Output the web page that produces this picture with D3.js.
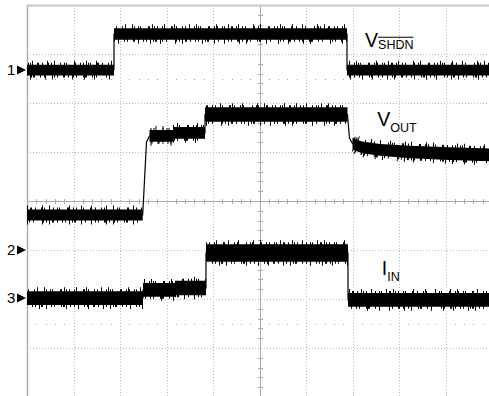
<!DOCTYPE html>
<html>
<head>
<meta charset="utf-8">
<script src="https://cdn.jsdelivr.net/npm/d3@7"></script>
<style>
  html, body { margin: 0; padding: 0; background: #fff; }
  svg { display: block; }
  text { font-family: "Liberation Sans", Arial, Helvetica, sans-serif; fill: #000; }
</style>
</head>
<body>
<svg id="scope" width="489" height="396"></svg>
<script>
// Horizontal axis: time in screen divisions (0–10).
// Vertical axis: amplitude in divisions about screen centre (−4 … +4).
// Noise arrays give the half-height of each trace's noise band, in divisions.

const shdnTime  = [0, 1.871, 1.871, 6.882, 6.882, 10];
const shdnLevel = [2.673, 2.673, 3.408, 3.408, 2.673, 2.673];
const shdnNoise = [0.11, 0.11, 0.115, 0.115, 0.11, 0.11];

const voutTime  = [0, 2.488, 2.488, 2.570, 2.634, 2.634, 3.140, 3.140, 3.828, 3.828, 6.892, 6.892, 6.935, 7.000, 7.000, 7.204, 7.591, 8.237, 9.097, 10];
const voutLevel = [-0.286, -0.286, -0.286, 1.204, 1.327, 1.327, 1.327, 1.388, 1.388, 1.765, 1.765, 1.765, 1.286, 1.173, 1.173, 1.092, 1.041, 1.000, 0.969, 0.939];
const voutNoise = [0.11, 0.11, 0, 0, 0, 0.12, 0.12, 0.12, 0.12, 0.15, 0.15, 0, 0, 0, 0.12, 0.12, 0.12, 0.13, 0.13, 0.13];

const iinTime  = [0, 2.495, 2.495, 3.183, 3.183, 3.849, 3.849, 6.903, 6.903, 10];
const iinLevel = [-1.980, -1.980, -1.816, -1.816, -1.776, -1.776, -1.061, -1.061, -2.020, -2.020];
const iinNoise = [0.14, 0.14, 0.14, 0.14, 0.15, 0.15, 0.18, 0.18, 0.14, 0.14];

// Channel ground markers (division level) and trace labels
const markerNames  = ["1", "2", "3"];
const markerLevels = [2.673, -1.0, -1.980];

const labelMain = ["V", "V", "I"];
const labelSub  = ["SHDN", "OUT", "IN"];
const labelOver = [true, false, false];
const labelT    = [7.27, 7.53, 7.63];
const labelV    = [3.148, 1.527, -1.510];

const xDivs = d3.range(0, 11);
const yDivs = d3.range(-4, 5);
const halfDivRows = [2.5, -2.5];

const svg = d3.select("#scope");
const x = d3.scaleLinear().domain([0, 10]).range([27, 492]);
const y = d3.scaleLinear().domain([-4, 4]).range([397, 5]);

// ---- graticule ----
const grid = svg.append("g");
grid.selectAll("line.v").data(xDivs.filter(d => d > 0 && d !== 5)).join("line")
  .attr("x1", d => Math.round(x(d)) + 0.5).attr("x2", d => Math.round(x(d)) + 0.5)
  .attr("y1", y(4)).attr("y2", y(-4))
  .attr("stroke", "#b8b8b8").attr("stroke-width", 1).attr("stroke-dasharray", "1,2");
grid.selectAll("line.h").data(yDivs.filter(d => d < 4 && d !== 0)).join("line")
  .attr("y1", d => Math.round(y(d)) + 0.5).attr("y2", d => Math.round(y(d)) + 0.5)
  .attr("x1", x(0)).attr("x2", x(10))
  .attr("stroke", "#b8b8b8").attr("stroke-width", 1).attr("stroke-dasharray", "1,2");

// centre cross with minor ticks
const cx = Math.round(x(5)) + 0.5, cy = Math.round(y(0)) + 0.5;
grid.append("line").attr("x1", cx).attr("x2", cx).attr("y1", y(4)).attr("y2", y(-4))
  .attr("stroke", "#ababab");
grid.append("line").attr("y1", cy).attr("y2", cy).attr("x1", x(0)).attr("x2", x(10))
  .attr("stroke", "#ababab");
const minorX = d3.range(0, 50).map(i => i / 5).filter(d => d % 1 !== 0);
const minorY = d3.range(-20, 20).map(i => i / 5).filter(d => Math.abs(d % 1) > 1e-6);
grid.selectAll("line.tx").data(minorX).join("line")
  .attr("x1", d => Math.round(x(d)) + 0.5).attr("x2", d => Math.round(x(d)) + 0.5)
  .attr("y1", cy - 2.5).attr("y2", cy + 2.5).attr("stroke", "#ababab");
grid.selectAll("line.ty").data(minorY).join("line")
  .attr("y1", d => Math.round(y(d)) + 0.5).attr("y2", d => Math.round(y(d)) + 0.5)
  .attr("x1", cx - 2.5).attr("x2", cx + 2.5).attr("stroke", "#ababab");

// dotted half-division rows
halfDivRows.forEach(r => {
  grid.selectAll(null).data(minorX).join("rect")
    .attr("x", d => Math.round(x(d))).attr("y", Math.round(y(r)))
    .attr("width", 1).attr("height", 1).attr("fill", "#a0a0a0");
});

// frame edges
grid.append("line").attr("x1", x(0)).attr("x2", x(10)).attr("y1", y(4) + 0.5).attr("y2", y(4) + 0.5)
  .attr("stroke", "#c8c8c8").attr("stroke-width", 2);
grid.append("line").attr("x1", x(0) + 0.5).attr("x2", x(0) + 0.5).attr("y1", y(4)).attr("y2", y(-4))
  .attr("stroke", "#b0b0b0").attr("stroke-width", 1.5);

// ---- traces ----
function drawTrace(t, v, n, seed) {
  const pts = t.map((d, i) => ({ t: d, v: v[i], n: n[i] }));
  const g = svg.append("g");
  // noise band
  g.append("path").datum(pts)
    .attr("d", d3.area().x(d => x(d.t)).y0(d => y(d.v - d.n)).y1(d => y(d.v + d.n)))
    .attr("fill", "#000");
  // thin centre trace (visible on fast edges)
  g.append("path").datum(pts)
    .attr("d", d3.line().x(d => x(d.t)).y(d => y(d.v)))
    .attr("fill", "none").attr("stroke", "#000").attr("stroke-width", 1.2);
  // noise spikes along the band edges of each flat stretch
  const segs = [];
  for (let i = 0; i < pts.length - 1; i++) {
    if (pts[i].n > 0 && pts[i + 1].n > 0 && pts[i + 1].t > pts[i].t) segs.push([pts[i], pts[i + 1]]);
  }
  const topPat = "1 2 1 4 1 1 1 6 2 3 1 5 1 2 1 8 1 3 1 1 1 7 2 4";
  const botPat = "1 4 1 2 1 6 1 1 2 5 1 3 1 9 1 2 1 5 2 3";
  const farPat = "1 9 1 14 1 6 1 19 1 11";
  segs.forEach((s, k) => {
    g.append("path").datum(s)
      .attr("d", d3.line().x(d => x(d.t)).y(d => y(d.v + d.n) - 0.5))
      .attr("fill", "none").attr("stroke", "#000").attr("stroke-width", 3)
      .attr("stroke-dasharray", topPat).attr("stroke-dashoffset", seed * 7 + k * 13);
    g.append("path").datum(s)
      .attr("d", d3.line().x(d => x(d.t)).y(d => y(d.v - d.n) + 0.5))
      .attr("fill", "none").attr("stroke", "#000").attr("stroke-width", 3)
      .attr("stroke-dasharray", botPat).attr("stroke-dashoffset", seed * 11 + k * 17);
    // occasional taller spikes
    g.append("path").datum(s)
      .attr("d", d3.line().x(d => x(d.t)).y(d => y(d.v + d.n) - 1.5))
      .attr("fill", "none").attr("stroke", "#000").attr("stroke-width", 5)
      .attr("stroke-dasharray", farPat).attr("stroke-dashoffset", seed * 5 + k * 9);
    g.append("path").datum(s)
      .attr("d", d3.line().x(d => x(d.t)).y(d => y(d.v - d.n) + 1.5))
      .attr("fill", "none").attr("stroke", "#000").attr("stroke-width", 5)
      .attr("stroke-dasharray", farPat).attr("stroke-dashoffset", seed * 3 + k * 21 + 4);
  });
}
drawTrace(shdnTime, shdnLevel, shdnNoise, 1);
drawTrace(voutTime, voutLevel, voutNoise, 2);
drawTrace(iinTime, iinLevel, iinNoise, 3);

// ---- channel markers ----
const labels = svg.append("g").attr("opacity", 0.999);
markerNames.forEach((m, i) => {
  const yy = y(markerLevels[i]);
  labels.append("text").attr("x", 7).attr("y", yy + 5).attr("font-size", 15).text(m);
  labels.append("path").attr("d", `M17,${yy - 4.5} L26,${yy} L17,${yy + 4.5} Z`).attr("fill", "#000");
});

// ---- trace labels ----
labelMain.forEach((m, i) => {
  const bx = x(labelT[i]), by = y(labelV[i]);
  const t = labels.append("text").attr("x", bx).attr("y", by).attr("font-size", 19.5);
  t.append("tspan").text(m);
  const sub = t.append("tspan").attr("font-size", 12.5).attr("dy", i === 0 ? 2 : 6).text(labelSub[i]);
  if (labelOver[i]) {
    const mainW = t.node().getSubStringLength(0, m.length);
    const subW = sub.node().getComputedTextLength();
    const ox = bx + mainW;
    labels.append("line").attr("x1", ox).attr("x2", ox + subW)
      .attr("y1", by - 9.5).attr("y2", by - 9.5).attr("stroke", "#000").attr("stroke-width", 1);
  }
});
</script>
</body>
</html>
